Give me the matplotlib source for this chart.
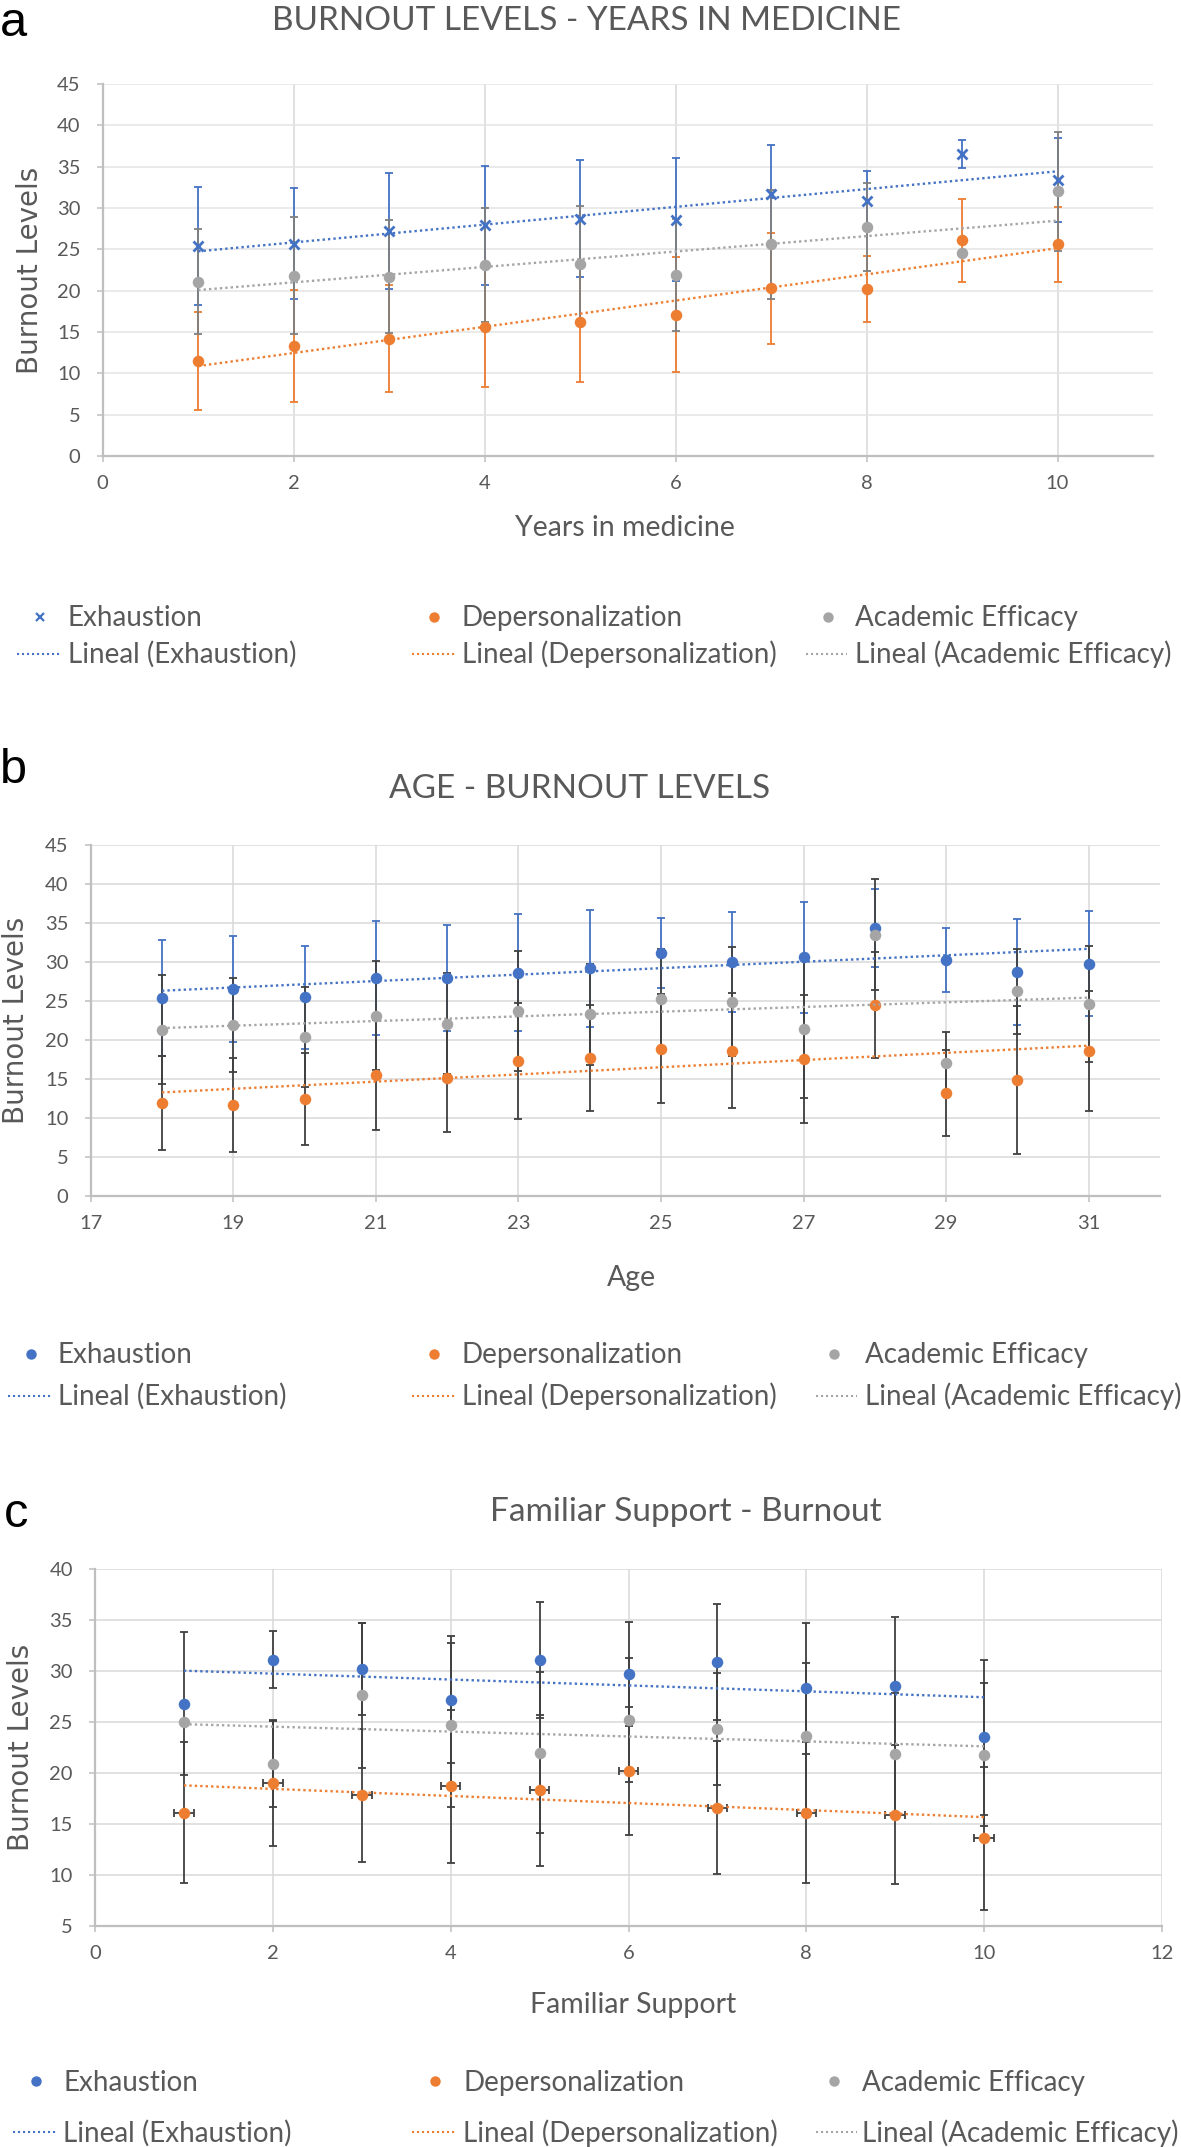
import numpy as np
import matplotlib
matplotlib.use("Agg")
import matplotlib.pyplot as plt
from matplotlib.lines import Line2D

# ---------------- data ----------------
a_x = [1, 2, 3, 4, 5, 6, 7, 8, 9, 10]
a_exh = [25.4, 25.7, 27.2, 27.9, 28.7, 28.6, 31.7, 30.9, 36.5, 33.4]
a_exh_sd = [7.1, 6.7, 7.0, 7.2, 7.1, 7.4, 5.9, 3.55, 1.68, 5.1]
a_dep = [11.5, 13.3, 14.2, 15.6, 16.2, 17.1, 20.3, 20.2, 26.1, 25.6]
a_dep_sd = [5.9, 6.8, 6.5, 7.2, 7.2, 6.95, 6.7, 4.0, 5.0, 4.5]
a_aca = [21.1, 21.8, 21.7, 23.1, 23.2, 21.9, 25.6, 27.7, 24.6, 32.0]
a_aca_sd = [6.3, 7.1, 6.8, 6.9, 7.0, 6.8, 6.55, 5.3, 0.0, 7.25]

b_x = [18, 19, 20, 21, 22, 23, 24, 25, 26, 27, 28, 29, 30, 31]
b_exh = [25.4, 26.5, 25.5, 28.0, 27.95, 28.6, 29.2, 31.2, 30.0, 30.6, 34.4, 30.2, 28.7, 29.8]
b_exh_sd = [7.4, 6.8, 6.6, 7.3, 6.75, 7.5, 7.5, 4.5, 6.4, 7.1, 5.0, 4.1, 6.8, 6.7]
b_dep = [11.9, 11.7, 12.4, 15.5, 15.1, 17.3, 17.7, 18.9, 18.65, 17.55, 24.5, 13.2, 14.9, 18.6]
b_dep_sd = [6.0, 6.0, 5.9, 7.1, 6.9, 7.4, 6.8, 7.0, 7.4, 8.2, 6.8, 5.5, 9.5, 7.7]
b_aca = [21.3, 21.9, 20.35, 23.1, 22.1, 23.7, 23.3, 25.2, 24.9, 21.45, 33.5, 17.1, 26.25, 24.6]
b_aca_sd = [7.0, 6.0, 6.4, 7.0, 6.5, 7.7, 6.5, 6.5, 7.0, 8.85, 7.1, 3.9, 5.45, 7.4]

c_x = [1, 2, 3, 4, 5, 6, 7, 8, 9, 10]
c_exh = [26.8, 31.1, 30.2, 27.2, 31.1, 29.7, 30.9, 28.3, 28.5, 23.5]
c_exh_sd = [7.0, 2.8, 4.5, 6.2, 5.7, 5.1, 5.7, 6.4, 6.8, 7.6]
c_dep = [16.1, 19.0, 17.8, 18.7, 18.3, 20.2, 16.6, 16.1, 15.9, 13.6]
c_dep_sd = [6.9, 6.2, 6.5, 7.5, 7.4, 6.3, 6.5, 6.9, 6.8, 7.0]
c_dep_xerr = [0.11, 0.11, 0.11, 0.11, 0.11, 0.11, 0.11, 0.11, 0.11, 0.11]
c_aca = [25.0, 20.9, 27.6, 24.7, 22.0, 25.2, 24.3, 23.6, 21.9, 21.8]
c_aca_sd = [0.0, 4.2, 7.1, 8.0, 7.9, 6.1, 5.5, 7.2, 5.9, 7.0]

series_names = ["Exhaustion", "Depersonalization", "Academic Efficacy"]
titles = ["BURNOUT LEVELS - YEARS IN MEDICINE", "AGE - BURNOUT LEVELS", "Familiar Support - Burnout"]
xlabels = ["Years in medicine", "Age", "Familiar Support"]
ylabel = "Burnout Levels"
panel_letters = ["a", "b", "c"]

# ---------------- style ----------------
BLUE = "#4472C4"
ORANGE = "#ED7D31"
GRAY = "#A5A5A5"
TXT = "#595959"
DARK = "#404040"
FONT = "Lato"

W, H = 1181, 2147
fig = plt.figure(figsize=(W / 100, H / 100), dpi=100)


def fx(px):
    return px / W


def fy(py):
    return 1 - py / H


def make_axes(left, right, top, bottom):
    return fig.add_axes([fx(left), fy(bottom), fx(right - left), (bottom - top) / H])


def style_axes(ax, xlim, xticks, ylim, yticks, hgrid):
    ax.set_xlim(*xlim)
    ax.set_ylim(*ylim)
    ax.set_xticks(xticks)
    ax.set_yticks(yticks)
    for s in ["top", "right"]:
        ax.spines[s].set_visible(False)
    for s in ["left", "bottom"]:
        ax.spines[s].set_color("#BFBFBF")
        ax.spines[s].set_linewidth(1.6)
    ax.set_axisbelow(True)
    ax.yaxis.grid(True, color=hgrid, lw=1.1)
    ax.xaxis.grid(True, color="#D9D9D9", lw=1.1)
    ax.tick_params(axis="both", direction="out", length=4, width=1.1, color="#BFBFBF",
                   labelcolor=TXT, labelsize=14.5)
    ax.tick_params(axis="x", pad=10)
    ax.tick_params(axis="y", pad=12)
    for lab in ax.get_xticklabels() + ax.get_yticklabels():
        lab.set_fontfamily(FONT)


def trend(ax, x, y, color):
    x = np.asarray(x, float)
    k, b = np.polyfit(x, np.asarray(y, float), 1)
    xs = np.array([x.min(), x.max()])
    ax.plot(xs, k * xs + b, color=color, lw=1.7, ls=(0, (1, 1.3)), zorder=5,
            solid_capstyle="butt", dash_capstyle="butt")


def series(ax, x, y, sd, color, ecolor, marker, xerr=None):
    ax.errorbar(x, y, yerr=sd, xerr=xerr, fmt="none", ecolor=ecolor, elinewidth=1.3,
                capsize=3, capthick=1.3, zorder=3)
    if marker == "x":
        ax.plot(x, y, ls="none", marker="x", ms=7.5, mew=2, color=color, zorder=4)
    else:
        ax.plot(x, y, ls="none", marker="o", ms=8.3, mew=0, color=color, zorder=4)


def legend(markers, rows, cols):
    colors = [BLUE, ORANGE, GRAY]
    my, mb, ly, lb = rows
    for i, (mx, tx, l0, l1) in enumerate(cols):
        if markers[i] == "x":
            fig.add_artist(Line2D([fx(mx)], [fy(my)], marker="x", ms=6, mew=1.6,
                                  color=colors[i], transform=fig.transFigure))
        else:
            fig.add_artist(Line2D([fx(mx)], [fy(my)], marker="o", ms=7.5, mew=0,
                                  color=colors[i], transform=fig.transFigure))
        fig.text(fx(tx), fy(mb), series_names[i], fontsize=20, color=TXT,
                 family=FONT, va="baseline", ha="left")
        fig.add_artist(Line2D([fx(l0), fx(l1)], [fy(ly), fy(ly)], lw=1.5,
                              ls=(0, (1, 1.4)), color=colors[i], transform=fig.transFigure))
        fig.text(fx(tx), fy(lb), "Lineal (%s)" % series_names[i], fontsize=20,
                 color=TXT, family=FONT, va="baseline", ha="left")


def labels(ax_box, title_xy, xlabel_xy, ylabel_x, letter_xy, idx, letter_va="baseline"):
    fig.text(fx(title_xy[0]), fy(title_xy[1]), titles[idx], fontsize=24, color=TXT,
             family=FONT, ha="center", va="baseline")
    fig.text(fx(xlabel_xy[0]), fy(xlabel_xy[1]), xlabels[idx], fontsize=20.5, color=TXT,
             family=FONT, ha="center", va="baseline")
    top, bottom = ax_box
    fig.text(fx(ylabel_x), fy((top + bottom) / 2), ylabel, fontsize=20, color=TXT,
             family="DejaVu Sans", rotation=90, ha="center", va="center")
    fig.text(fx(letter_xy[0]), fy(letter_xy[1]), panel_letters[idx], fontsize=35,
             color="black", family="Liberation Sans", ha="left", va=letter_va)


# ---------------- panel a ----------------
axa = make_axes(102.7, 1153, 84, 456)
style_axes(axa, (0, 11), [0, 2, 4, 6, 8, 10], (0, 45), range(0, 46, 5), "#E4E4E4")
series(axa, a_x, a_exh, a_exh_sd, BLUE, BLUE, "x")
series(axa, a_x, a_dep, a_dep_sd, ORANGE, ORANGE, "o")
series(axa, a_x, a_aca, a_aca_sd, GRAY, "#7F7F7F", "o")
trend(axa, a_x, a_exh, BLUE)
trend(axa, a_x, a_dep, ORANGE)
trend(axa, a_x, a_aca, GRAY)
labels((84, 456), (587, 30), (625, 536), 30, (0, 1), 0, letter_va="top")
legend(["x", "o", "o"], (617, 626, 654, 663),
       [(40, 68, 17, 61), (434, 462, 412, 455), (828, 855, 806, 847)])

# ---------------- panel b ----------------
axb = make_axes(90.7, 1160, 845, 1196)
style_axes(axb, (17, 32), [17, 19, 21, 23, 25, 27, 29, 31], (0, 45), range(0, 46, 5), "#D9D9D9")
series(axb, b_x, b_exh, b_exh_sd, BLUE, BLUE, "o")
series(axb, b_x, b_dep, b_dep_sd, ORANGE, DARK, "o")
series(axb, b_x, b_aca, b_aca_sd, GRAY, DARK, "o")
trend(axb, b_x, b_exh, BLUE)
trend(axb, b_x, b_dep, ORANGE)
trend(axb, b_x, b_aca, GRAY)
labels((845, 1196), (580, 798), (631, 1286), 16, (0, 783), 1)
legend(["o", "o", "o"], (1354, 1363, 1396, 1405),
       [(31, 58, 8, 52), (434, 462, 412, 455), (834, 865, 816, 857)])

# ---------------- panel c ----------------
axc = make_axes(95, 1162, 1569, 1926)
style_axes(axc, (0, 12), [0, 2, 4, 6, 8, 10, 12], (5, 40), range(5, 41, 5), "#D9D9D9")
series(axc, c_x, c_exh, c_exh_sd, BLUE, DARK, "o")
series(axc, c_x, c_dep, c_dep_sd, ORANGE, DARK, "o", xerr=c_dep_xerr)
series(axc, c_x, c_aca, c_aca_sd, GRAY, DARK, "o")
trend(axc, c_x, c_exh, BLUE)
trend(axc, c_x, c_dep, ORANGE)
trend(axc, c_x, c_aca, GRAY)
labels((1569, 1926), (686, 1521), (633, 2013), 21, (4, 1527), 2)
legend(["o", "o", "o"], (2081, 2091, 2132, 2142),
       [(36, 63, 13, 57), (435, 463, 412, 456), (834, 862, 816, 857)])

fig.savefig("out.png", dpi=100, facecolor="white")
